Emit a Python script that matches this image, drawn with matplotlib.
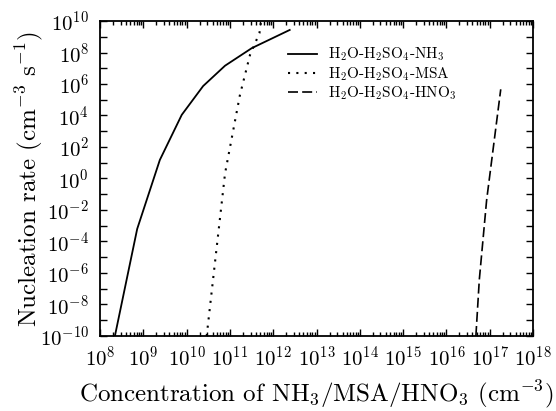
import matplotlib
matplotlib.use("Agg")
import matplotlib.pyplot as plt
from matplotlib.ticker import FixedLocator, LogLocator, NullFormatter

plt.rcParams['font.family'] = 'cmr10'
plt.rcParams['mathtext.fontset'] = 'cm'
plt.rcParams['axes.formatter.use_mathtext'] = True

######### DATA #########
nh3_conc = [2.2e8, 7.2e8, 2.4e9, 7.7e9, 2.4e10, 7.7e10, 3.2e11, 2.4e12]
nh3_rate = [1e-10, 6.3e-4, 1.5e1, 1.1e4, 7.4e5, 1.45e7, 1.9e8, 2.7e9]

msa_conc = [2.9e10, 7.7e10, 1.7e11, 2.9e11, 4.8e11, 5.2e11]
msa_rate = [1e-10, 2.1e0, 2.0e5, 6.9e7, 1.7e9, 8.7e9]

hno3_conc = [4.8e16, 5.75e16, 8.5e16, 1.8e17]
hno3_rate = [1e-10, 3.6e-7, 4.3e-2, 4.6e5]

labels = [r'H$_2$O-H$_2$SO$_4$-NH$_3$',
          r'H$_2$O-H$_2$SO$_4$-MSA',
          r'H$_2$O-H$_2$SO$_4$-HNO$_3$']

######### PLOT #########
fig = plt.figure(figsize=(5.56, 4.11), dpi=100)
ax = fig.add_axes([0.18, 0.1825, 0.7786, 0.7664])

ax.plot(nh3_conc, nh3_rate, color='black', lw=1.3, label=labels[0])
ax.plot(msa_conc, msa_rate, color='black', lw=1.5, linestyle=(0, (1, 3)), label=labels[1])
ax.plot(hno3_conc, hno3_rate, color='black', lw=1.2, linestyle=(0, (6, 2.5)), label=labels[2])

ax.set_xscale('log')
ax.set_yscale('log')
ax.set_xlim(1e8, 1e18)
ax.set_ylim(1e-10, 1e10)

ax.xaxis.set_major_locator(FixedLocator([10.0 ** k for k in range(8, 19)]))
ax.xaxis.set_minor_locator(LogLocator(base=10, subs=range(2, 10), numticks=100))
ax.xaxis.set_minor_formatter(NullFormatter())
ax.yaxis.set_major_locator(FixedLocator([10.0 ** k for k in range(-10, 11, 2)]))
ax.yaxis.set_minor_locator(FixedLocator([10.0 ** k for k in range(-9, 10, 2)]))
ax.yaxis.set_minor_formatter(NullFormatter())

ax.tick_params(which='both', direction='in', top=True, right=True, width=1.0,
               labelsize=15)
ax.tick_params(axis='x', which='major', length=5, pad=7)
ax.tick_params(axis='x', which='minor', length=3)
ax.tick_params(axis='y', which='both', length=5, pad=8)
for s in ax.spines.values():
    s.set_linewidth(1.3)

ax.set_xlabel(r'Concentration of NH$_3$/MSA/HNO$_3$ (cm$^{-3}$)', fontsize=18, labelpad=6)
ax.set_ylabel(r'Nucleation rate (cm$^{-3}$ s$^{-1}$)', fontsize=18, labelpad=-4)

ax.legend(loc='upper left', bbox_to_anchor=(0.41, 0.955), frameon=False, fontsize=11,
          handlelength=1.85, handletextpad=0.75, labelspacing=0.1, borderpad=0.2)

fig.savefig('out.png', dpi=100)
